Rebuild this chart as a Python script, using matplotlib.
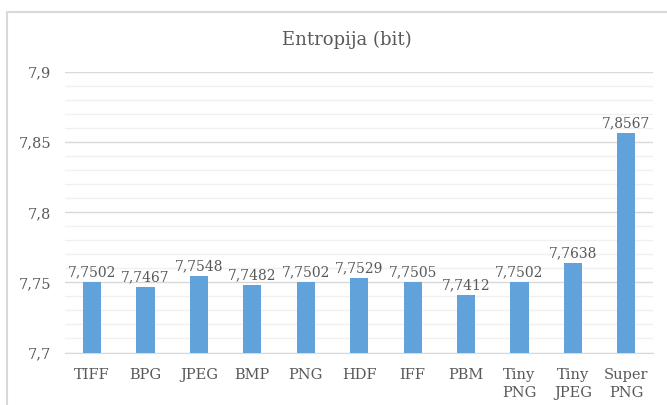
import matplotlib.pyplot as plt
from matplotlib.patches import Rectangle
from matplotlib.ticker import MultipleLocator, FuncFormatter

# Entropy values per format
formats = ["TIFF", "BPG", "JPEG", "BMP", "PNG", "HDF", "IFF", "PBM",
           "Tiny\nPNG", "Tiny\nJPEG", "Super\nPNG"]
entropy = [7.7502, 7.7467, 7.7548, 7.7482, 7.7502, 7.7529, 7.7505, 7.7412,
           7.7502, 7.7638, 7.8567]

text_col = "#595959"
plt.rcParams['font.family'] = ['DejaVu Serif']

fig = plt.figure(figsize=(6.67, 4.05), dpi=100)
ax = fig.add_axes([0.098, 0.1296, 0.881, 0.6924])

# outer chart frame
fig.patches.append(Rectangle((7 / 667, -0.1), 1.2, 1 - 12 / 405 + 0.1,
                             transform=fig.transFigure, fill=False,
                             edgecolor="#d9d9d9", linewidth=1.5))

x = range(len(formats))
ax.bar(x, entropy, width=0.34, color="#62a2da", zorder=3)

for i, v in enumerate(entropy):
    ax.text(i, v + 0.002, f"{v:.4f}".replace(".", ","), ha="center", va="bottom",
            fontsize=10, color=text_col)

ax.set_xlim(-0.5, len(formats) - 0.5)
ax.set_ylim(7.7, 7.9)
ax.yaxis.set_major_locator(MultipleLocator(0.05))
ax.yaxis.set_minor_locator(MultipleLocator(0.01))
ax.yaxis.set_major_formatter(FuncFormatter(lambda v, p: f"{v:g}".replace(".", ",")))
ax.grid(axis="y", which="major", color="#d9d9d9", linewidth=1, zorder=0)
ax.grid(axis="y", which="minor", color="#f0f0f0", linewidth=1, zorder=0)
ax.set_xticks(list(x))
ax.set_xticklabels(formats, fontsize=10.5, color=text_col, linespacing=1.35)
ax.tick_params(axis="y", labelsize=10.5, labelcolor=text_col, length=0, pad=10)
ax.tick_params(axis="x", length=0, pad=11)
ax.tick_params(axis="y", which="minor", length=0)
for s in ["top", "right", "left"]:
    ax.spines[s].set_visible(False)
ax.spines["bottom"].set_color("#d9d9d9")

fig.text(0.52, 1 - 40 / 405, "Entropija (bit)", ha="center", va="center",
         fontsize=13, color=text_col)

fig.savefig("out.png", dpi=100)
